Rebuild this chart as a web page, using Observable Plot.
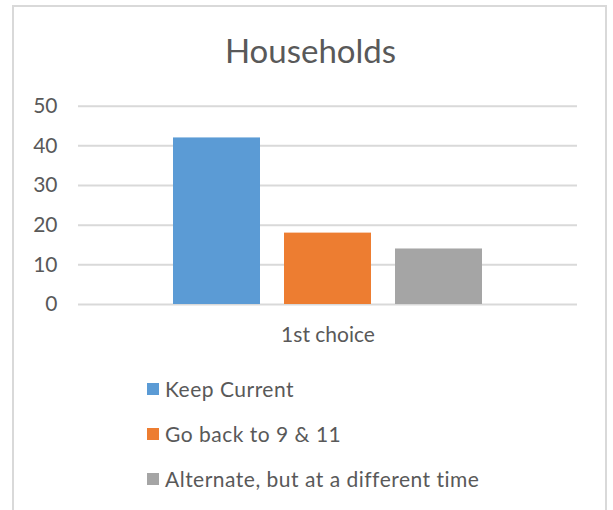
<!DOCTYPE html>
<html>
<head>
<meta charset="utf-8">
<script src="https://cdn.jsdelivr.net/npm/d3@7"></script>
<script src="https://cdn.jsdelivr.net/npm/@observablehq/plot@0.6"></script>
<style>
  html, body { margin: 0; padding: 0; background: #fff; }
  body { width: 613px; height: 510px; position: relative; overflow: hidden; font-family: Lato, sans-serif; color: #595959; }
  #frame { position: absolute; left: 12px; top: 5px; width: 595px; height: 540px; box-sizing: border-box; border: 2px solid #d9d9d9; }
  #title { position: absolute; left: 13px; width: 595px; top: 30px; text-align: center; font-size: 33px; line-height: 40px; }
  #chart { position: absolute; left: 0; top: 80px; }
  #legend { position: absolute; left: 147px; top: 366px; }
  .row { display: flex; align-items: center; height: 45px; font-size: 21px; letter-spacing: 0.5px; }
  .sw { width: 12px; height: 12px; margin-right: 6px; }
</style>
</head>
<body>
<div id="frame"></div>
<div id="title">Households</div>
<div id="chart"></div>
<div id="legend"></div>
<script>
const categories = ["1st choice"];
const series = ["Keep Current", "Go back to 9 & 11", "Alternate, but at a different time"];
const values = [42, 18, 14];
const colors = ["#5b9bd5", "#ed7d31", "#a5a5a5"];
const yTicks = [0, 10, 20, 30, 40, 50];

const data = series.map((s, i) => ({group: categories[0], series: s, value: values[i]}));

const chart = Plot.plot({
  width: 613,
  height: 280,
  marginLeft: 78,
  marginRight: 36,
  marginTop: 25.7,
  marginBottom: 56,
  style: {fontFamily: "Lato", fontSize: "21px", color: "#595959", background: "transparent", overflow: "visible"},
  y: {domain: [0, 50], label: null},
  fx: {domain: categories, padding: 0, label: null},
  x: {domain: series, paddingInner: 0.22, paddingOuter: 0.853},
  color: {domain: series, range: colors},
  marks: [
    Plot.ruleY(yTicks, {stroke: "#d9d9d9", strokeWidth: 2}),
    Plot.barY(data, {fx: "group", x: "series", y: "value", fill: "series"}),
    Plot.axisY({ticks: yTicks, tickSize: 0, tickPadding: 21, fontSize: 21, label: null}),
    Plot.axisFx({anchor: "bottom", tickSize: 0, tickPadding: 23, fontSize: 21, label: null}),
    Plot.axisX({ticks: [], label: null, tickSize: 0})
  ]
});
document.getElementById("chart").appendChild(chart);

const legend = document.getElementById("legend");
series.forEach((s, i) => {
  const row = document.createElement("div");
  row.className = "row";
  const sw = document.createElement("div");
  sw.className = "sw";
  sw.style.background = colors[i];
  const t = document.createElement("span");
  t.textContent = s;
  row.appendChild(sw);
  row.appendChild(t);
  legend.appendChild(row);
});
</script>
</body>
</html>
